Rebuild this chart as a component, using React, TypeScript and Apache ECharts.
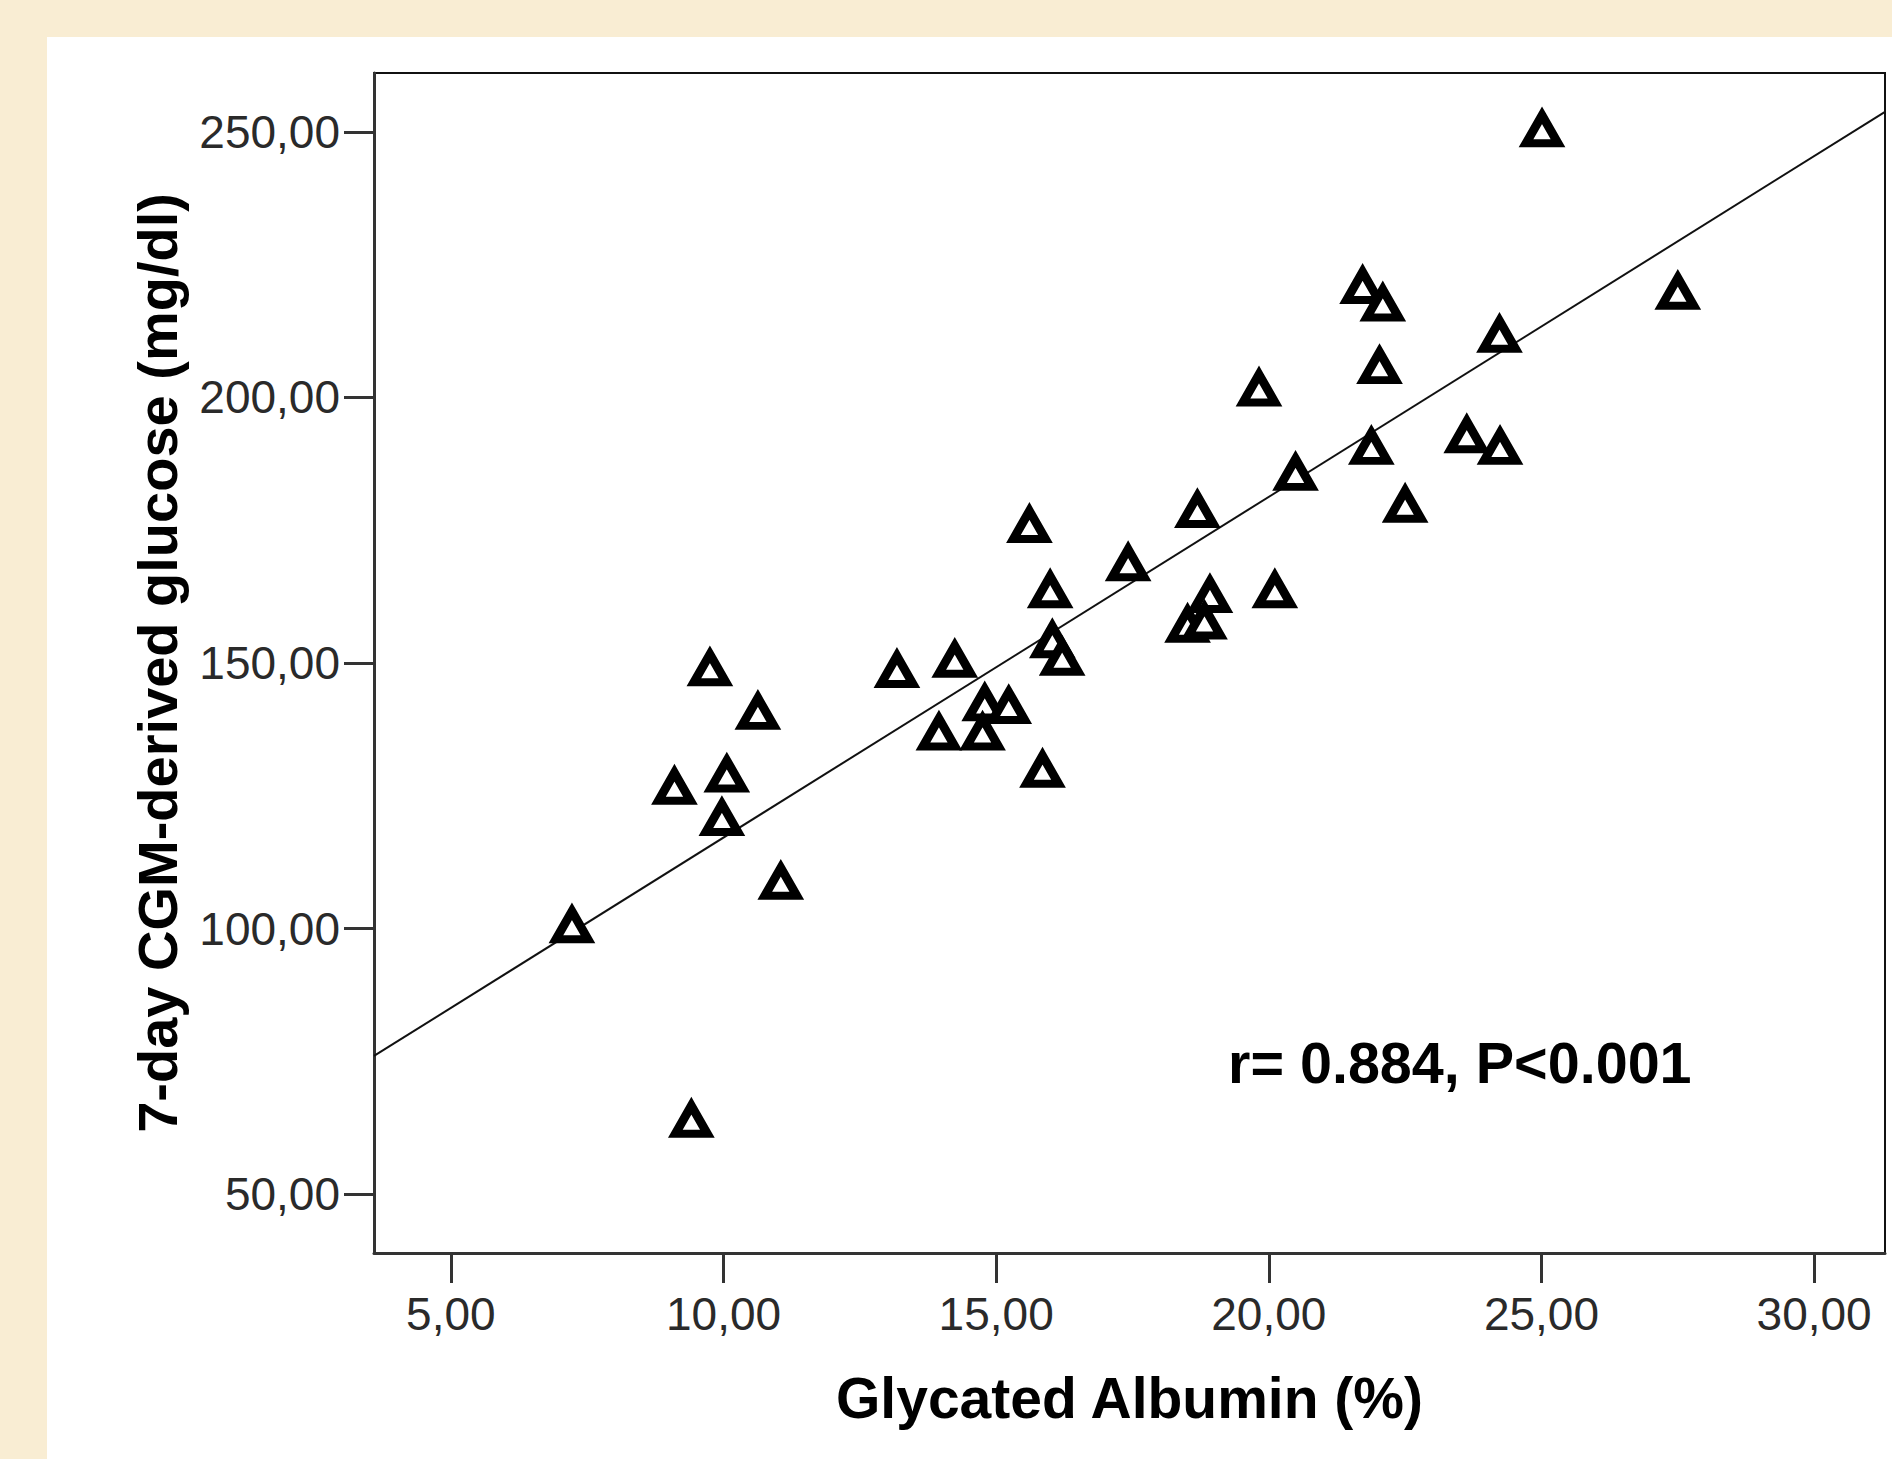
import React, { useEffect, useRef } from "react";
import * as echarts from "echarts";

// Glycated albumin (%) values
const glycatedAlbumin: number[] = [
  25.01, 27.5, 21.72, 22.09, 24.23, 22.03, 19.82, 23.63, 24.24, 21.88,
  20.49, 22.5, 18.69, 15.61, 17.42, 15.99, 20.11, 18.92, 18.51, 18.82,
  16.03, 16.21, 14.24, 13.18, 9.75, 10.63, 14.79, 15.23, 13.95, 14.75,
  15.85, 10.06, 9.1, 9.97, 11.05, 7.22, 9.41,
];
// 7-day CGM-derived glucose (mg/dl)
const cgmGlucose: number[] = [
  250.5, 219.9, 221.0, 217.7, 211.8, 205.9, 201.7, 192.9, 190.7, 190.7,
  185.8, 179.8, 178.8, 176.0, 168.8, 163.7, 163.7, 162.8, 157.2, 157.8,
  154.3, 151.0, 150.6, 148.7, 149.0, 140.8, 142.4, 141.9, 136.9, 136.9,
  129.9, 129.0, 126.7, 120.8, 108.8, 100.6, 64.0,
];
// Fit line as drawn (intercept, slope)
const fitIntercept = 52.97;
const fitSlope = 6.416;

const xTicks: number[] = [5, 10, 15, 20, 25, 30];
const yTicks: number[] = [50, 100, 150, 200, 250];
const xRange: number[] = [3.59, 31.3];
const yRange: number[] = [38.9, 261.1];

const annotation = "r= 0.884, P<0.001";
const xTitle = "Glycated Albumin (%)";
const yTitle = "7-day CGM-derived glucose (mg/dl)";

const FONT = "'Liberation Sans', Arial, Helvetica, sans-serif";

const fmt = (v: number) => v.toFixed(2).replace(".", ",");

export default function App() {
  const ref = useRef<HTMLDivElement>(null);

  useEffect(() => {
    if (!ref.current) return;
    const chart = echarts.init(ref.current, null, { renderer: "svg" });

    const points = glycatedAlbumin.map((x, i) => [x, cgmGlucose[i]]);
    const fitLine = [
      [xRange[0], fitIntercept + fitSlope * xRange[0]],
      [xRange[1], fitIntercept + fitSlope * xRange[1]],
    ];

    const beige = "#F9EDD3";

    chart.setOption({
      animation: false,
      backgroundColor: "#ffffff",
      textStyle: { fontFamily: FONT },
      graphic: [
        { type: "rect", shape: { x: 0, y: 0, width: 1892, height: 37 }, style: { fill: beige }, silent: true },
        { type: "rect", shape: { x: 0, y: 0, width: 47, height: 1459 }, style: { fill: beige }, silent: true },
        {
          type: "text",
          x: 1228,
          y: 1063,
          style: {
            text: annotation,
            fontFamily: FONT,
            fontWeight: "bold",
            fontSize: 57.5,
            fill: "#000",
            textAlign: "left",
            textVerticalAlign: "middle",
          },
        },
      ],
      grid: {
        left: 374,
        top: 73,
        right: 7,
        bottom: 206,
        show: true,
        borderColor: "#111",
        borderWidth: 2,
        backgroundColor: "transparent",
        containLabel: false,
      },
      xAxis: {
        type: "value",
        min: xRange[0],
        max: xRange[1],
        name: xTitle,
        nameLocation: "middle",
        nameGap: 116,
        nameTextStyle: { fontFamily: FONT, fontWeight: "bold", fontSize: 57, color: "#000" },
        splitLine: { show: false },
        axisLine: { show: true, onZero: false, lineStyle: { color: "#333", width: 3 } },
        axisTick: { show: true, length: 30, inside: false, customValues: xTicks, lineStyle: { color: "#333", width: 3 } },
        axisLabel: {
          customValues: xTicks,
          formatter: (v: number) => fmt(v),
          margin: 38,
          fontFamily: FONT,
          fontSize: 46,
          color: "#2a2a2a",
        },
      },
      yAxis: {
        type: "value",
        min: yRange[0],
        max: yRange[1],
        name: yTitle,
        nameLocation: "middle",
        nameGap: 189,
        nameTextStyle: { fontFamily: FONT, fontWeight: "bold", fontSize: 56, color: "#000" },
        splitLine: { show: false },
        axisLine: { show: true, onZero: false, lineStyle: { color: "#333", width: 3 } },
        axisTick: { show: true, length: 30, inside: false, customValues: yTicks, lineStyle: { color: "#333", width: 3 } },
        axisLabel: {
          customValues: yTicks,
          formatter: (v: number) => fmt(v),
          margin: 34,
          fontFamily: FONT,
          fontSize: 46,
          color: "#2a2a2a",
        },
      },
      series: [
        {
          type: "line",
          data: fitLine,
          showSymbol: false,
          symbol: "none",
          lineStyle: { color: "#111", width: 2 },
          silent: true,
          z: 2,
        },
        {
          type: "scatter",
          data: points,
          symbol: "triangle",
          symbolSize: [32, 28],
          itemStyle: {
            color: "#ffffff",
            borderColor: "#000",
            borderWidth: 8.5,
            borderJoin: "miter",
            borderMiterLimit: 10,
            opacity: 1,
          },
          z: 3,
        },
      ],
    });

    return () => chart.dispose();
  }, []);

  return (
    <div
      ref={ref}
      style={{ position: "absolute", left: 0, top: 0, width: 1892, height: 1459 }}
    />
  );
}
